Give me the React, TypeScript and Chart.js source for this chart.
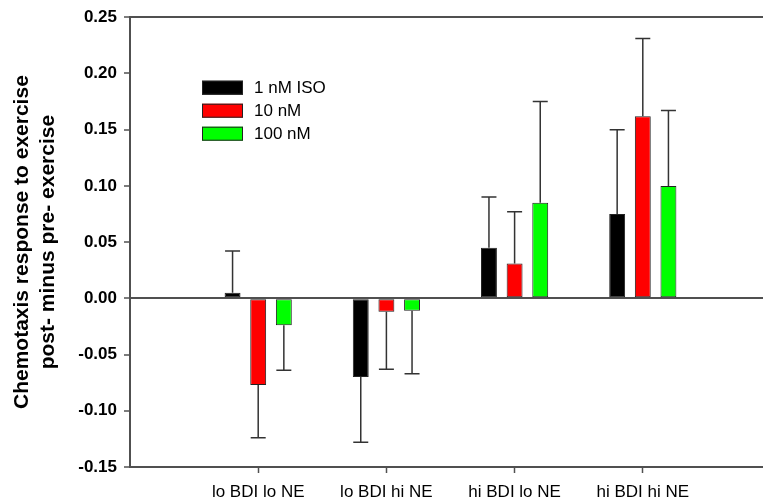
import React, { useEffect, useRef } from "react";
import { Chart, registerables } from "chart.js";

Chart.register(...registerables);

const categories = ["lo BDI lo NE", "lo BDI hi NE", "hi BDI lo NE", "hi BDI hi NE"];
const seriesLabels = ["1 nM ISO", "10 nM", "100 nM"];
const iso1 = [0.005, -0.07, 0.045, 0.075];
const iso1Err = [0.037, 0.058, 0.045, 0.075];
const nm10 = [-0.077, -0.012, 0.031, 0.162];
const nm10Err = [0.047, 0.051, 0.046, 0.069];
const nm100 = [-0.024, -0.011, 0.085, 0.1];
const nm100Err = [0.04, 0.056, 0.09, 0.067];
const seriesColors = ["#000000", "#ff0000", "#00ff00"];
const yMin = -0.15;
const yMax = 0.25;
const yStep = 0.05;
const yTitle = ["Chemotaxis response to exercise", "post- minus pre- exercise"];

const FONT = "'Liberation Sans', Arial, Helvetica, sans-serif";
const AXIS = "#505050";

const errorBars = {
  id: "errorBars",
  afterDatasetsDraw(chart: any) {
    const ctx = chart.ctx;
    const ys = chart.scales.y;
    chart.data.datasets.forEach((ds: any, di: number) => {
      const meta = chart.getDatasetMeta(di);
      meta.data.forEach((bar: any, i: number) => {
        const v = ds.data[i];
        const e = ds.errors ? ds.errors[i] : null;
        if (v == null || e == null) return;
        const end = v >= 0 ? v + e : v - e;
        const x = bar.x;
        const y0 = ys.getPixelForValue(v);
        const y1 = ys.getPixelForValue(end);
        ctx.save();
        ctx.strokeStyle = "#333333";
        ctx.lineWidth = 1.5;
        ctx.beginPath();
        ctx.moveTo(x, y0);
        ctx.lineTo(x, y1);
        ctx.moveTo(x - 7.5, y1);
        ctx.lineTo(x + 7.5, y1);
        ctx.stroke();
        ctx.restore();
      });
    });
  },
};

const innerLegend = {
  id: "innerLegend",
  afterDraw(chart: any) {
    const ctx = chart.ctx;
    const { left, top } = chart.chartArea;
    const x0 = left + 72;
    const y0 = top + 63.5;
    ctx.save();
    ctx.font = `17px ${FONT}`;
    ctx.textBaseline = "middle";
    ctx.textAlign = "left";
    chart.data.datasets.forEach((ds: any, i: number) => {
      const y = y0 + i * 23;
      ctx.fillStyle = ds.backgroundColor;
      ctx.fillRect(x0, y, 41, 14);
      ctx.strokeStyle = "#222222";
      ctx.lineWidth = 1;
      ctx.strokeRect(x0 + 0.5, y + 0.5, 40, 13);
      ctx.fillStyle = "#000000";
      ctx.fillText(ds.label, x0 + 52, y + 7.5);
    });
    ctx.restore();
  },
};

export default function App() {
  const ref = useRef<HTMLCanvasElement | null>(null);

  useEffect(() => {
    if (!ref.current) return;
    const labels = ["", ...categories, ""];
    const values = [iso1, nm10, nm100];
    const errs = [iso1Err, nm10Err, nm100Err];
    const datasets = seriesLabels.map((label, i) => ({
      label,
      data: [null, ...values[i], null],
      errors: [null, ...errs[i], null],
      backgroundColor: seriesColors[i],
      borderColor: "#222222",
      borderWidth: 1,
      borderSkipped: false,
      categoryPercentage: 0.6,
      barPercentage: 0.62,
    }));
    const near = (a: number, b: number) => Math.abs(a - b) < 1e-9;
    const chart = new Chart(ref.current, {
      type: "bar",
      data: { labels, datasets: datasets as any },
      plugins: [errorBars, innerLegend],
      options: {
        animation: false,
        responsive: false,
        maintainAspectRatio: false,
        layout: { padding: { left: 0, top: 16, right: 6.5, bottom: 0 } },
        plugins: { legend: { display: false }, tooltip: { enabled: false } },
        scales: {
          x: {
            type: "category",
            offset: false,
            grid: {
              offset: false,
              color: "transparent",
              drawTicks: true,
              tickLength: 6,
              tickWidth: 1.5,
              tickColor: (c: any) =>
                c.index === 0 || c.index === labels.length - 1 ? "transparent" : AXIS,
            },
            border: { display: true, color: AXIS, width: 2 },
            ticks: {
              autoSkip: false,
              maxRotation: 0,
              padding: 9,
              color: "#000000",
              font: { family: FONT, size: 17 },
            },
            afterFit: (s: any) => {
              s.height = 37;
            },
          },
          y: {
            min: yMin,
            max: yMax,
            grid: {
              color: (c: any) =>
                c.tick && (near(c.tick.value, 0) || near(c.tick.value, yMax)) ? AXIS : "transparent",
              lineWidth: 2,
              tickLength: 6,
              tickWidth: 1.5,
              tickColor: AXIS,
            },
            border: { display: true, color: AXIS, width: 2 },
            ticks: {
              stepSize: yStep,
              padding: 7,
              color: "#000000",
              font: { family: FONT, size: 17, weight: "bold" },
              callback: (v: any) => Number(v).toFixed(2),
            },
            title: {
              display: true,
              text: yTitle,
              color: "#000000",
              font: { family: FONT, size: 21, weight: "bold", lineHeight: 1.2 },
              padding: { top: 10, bottom: 0 },
            },
            afterFit: (s: any) => {
              s.width = 130;
            },
          },
        },
      } as any,
    });
    return () => chart.destroy();
  }, []);

  return (
    <div
      style={{
        position: "fixed",
        left: 0,
        top: 0,
        width: 763,
        height: 504,
        overflow: "hidden",
        background: "#ffffff",
      }}
    >
      <canvas ref={ref} width={780} height={504} style={{ display: "block" }} />
    </div>
  );
}
